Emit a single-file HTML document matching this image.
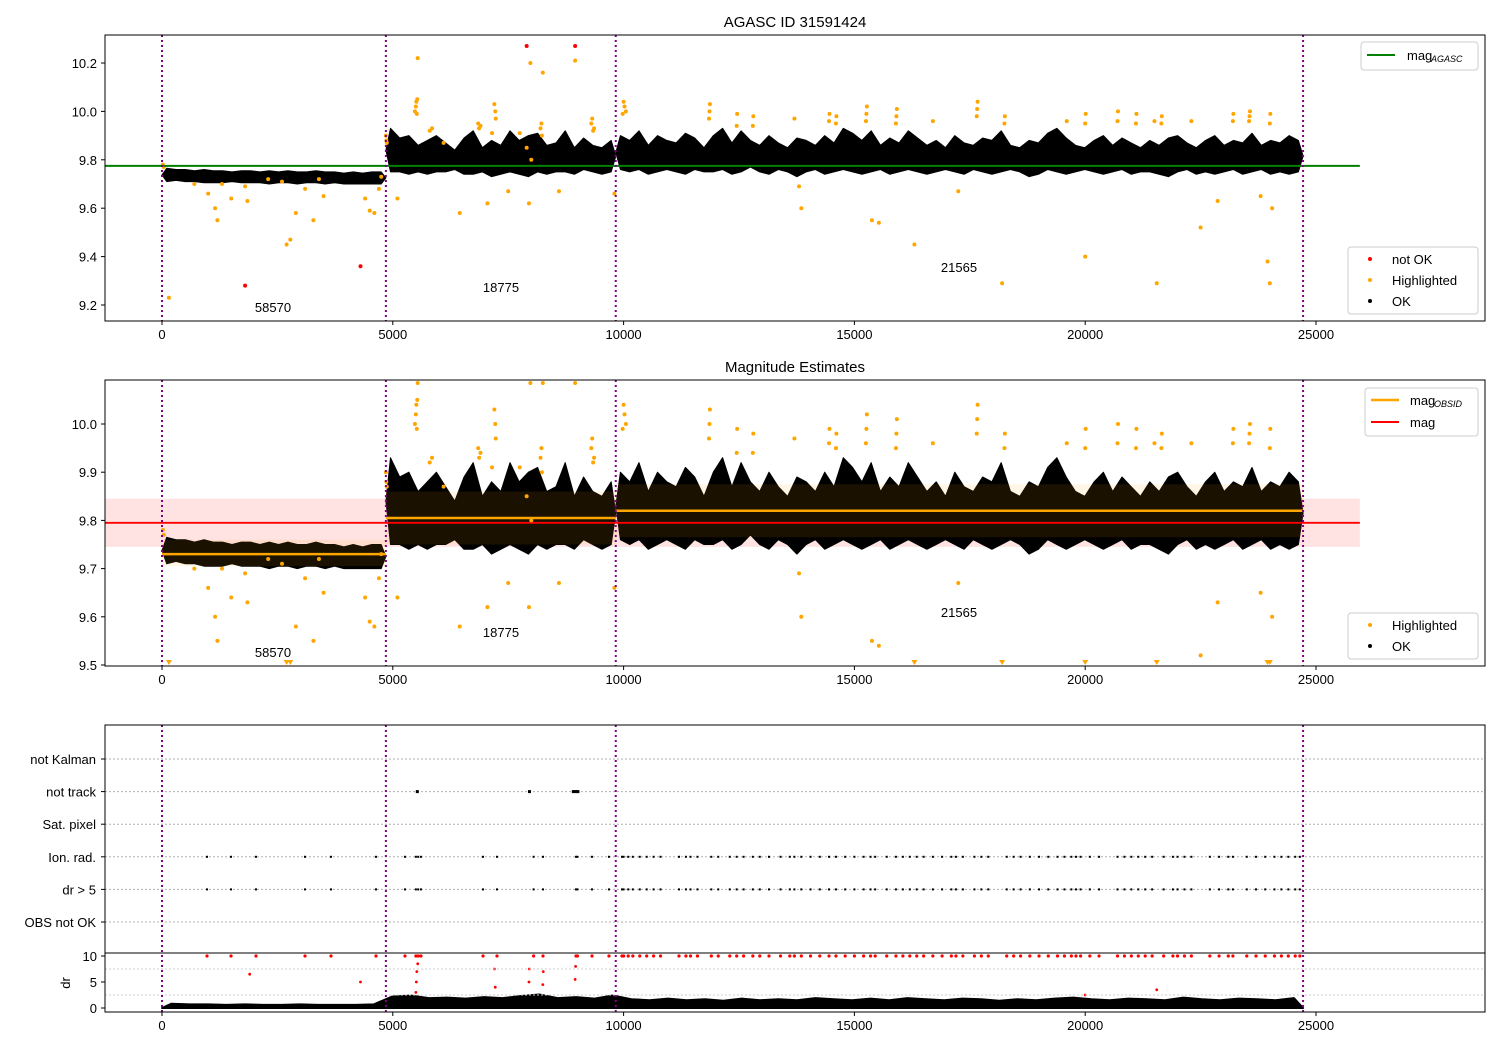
<!DOCTYPE html>
<html><head><meta charset="utf-8"><style>
body{margin:0;background:#fff}
svg{display:block;font-family:"Liberation Sans","DejaVu Sans",sans-serif}
</style></head><body>
<svg id="c" width="1500" height="1050" viewBox="0 0 1500 1050" xmlns="http://www.w3.org/2000/svg"></svg>
<script>
const xTicks=[0,5000,10000,15000,20000,25000];
const p1Ticks=[9.2,9.4,9.6,9.8,10.0,10.2];
const p2Ticks=[9.5,9.6,9.7,9.8,9.9,10.0];
const categories=["not Kalman","not track","Sat. pixel","Ion. rad.","dr > 5","OBS not OK"];
const drTicks=[0,5,10];
const segBounds=[0,4850,9830,24720];
const obsids=["58570","18775","21565"];
const obsMean=[9.73,9.805,9.82];
const obsLo=[9.705,9.75,9.765];
const obsHi=[9.76,9.86,9.875];
const magAgasc=9.775;
const magObs=9.795, magObsLo=9.745, magObsHi=9.845;
const hi1=[9.765,9.76,9.76,9.755,9.76,9.755,9.755,9.75,9.755,9.755,9.75,9.755,9.75,9.755,9.75,9.75,9.755,9.75,9.75,9.745,9.75,9.745,9.75,9.75];
const lo1=[9.71,9.715,9.71,9.71,9.705,9.705,9.705,9.71,9.705,9.705,9.705,9.7,9.705,9.705,9.7,9.705,9.705,9.7,9.705,9.7,9.7,9.7,9.7,9.7];
const hi2=[9.93,9.89,9.9,9.86,9.88,9.9,9.87,9.84,9.89,9.92,9.85,9.88,9.86,9.92,9.88,9.9,9.91,9.86,9.87,9.92,9.85,9.89,9.86,9.85,9.88];
const lo2=[9.75,9.75,9.74,9.75,9.74,9.75,9.75,9.76,9.74,9.74,9.75,9.73,9.74,9.75,9.74,9.73,9.75,9.74,9.75,9.75,9.74,9.76,9.75,9.74,9.75];
const hi3=[9.9,9.88,9.92,9.86,9.9,9.88,9.87,9.91,9.89,9.85,9.9,9.93,9.87,9.92,9.88,9.86,9.9,9.87,9.85,9.89,9.88,9.86,9.9,9.87,9.93,9.91,9.88,9.92,9.86,9.89,9.87,9.92,9.89,9.86,9.88,9.85,9.9,9.87,9.86,9.89,9.88,9.92,9.86,9.85,9.88,9.87,9.91,9.93,9.89,9.86,9.85,9.88,9.9,9.86,9.89,9.87,9.85,9.88,9.86,9.89,9.9,9.87,9.85,9.88,9.9,9.86,9.88,9.87,9.91,9.86,9.88,9.87,9.9,9.88];
const lo3=[9.76,9.75,9.76,9.74,9.75,9.76,9.75,9.74,9.76,9.75,9.75,9.76,9.74,9.75,9.77,9.75,9.74,9.76,9.75,9.73,9.75,9.76,9.74,9.75,9.76,9.75,9.74,9.75,9.76,9.74,9.75,9.76,9.75,9.74,9.75,9.76,9.75,9.74,9.76,9.75,9.74,9.75,9.76,9.75,9.73,9.74,9.76,9.75,9.74,9.75,9.76,9.75,9.74,9.75,9.76,9.74,9.75,9.75,9.74,9.73,9.75,9.76,9.74,9.75,9.74,9.75,9.76,9.74,9.75,9.76,9.74,9.75,9.74,9.75];
const hlT=[20,40,150,700,1000,1150,1200,1300,1500,1800,1850,2300,2600,2700,2780,2900,3100,3280,3400,3500,4400,4500,4600,4700,4750,
4850,4860,4870,5480,5500,5510,5520,5530,5540,5100,5800,5850,6450,6100,6850,6870,6900,7050,7150,7200,7220,7230,7500,7750,7900,7950,7980,8000,8200,8220,8250,8230,8600,8950,9300,9320,9340,9360,9800,
9980,10000,10020,10050,11850,11860,11870,12450,12460,12800,12810,13700,14450,14460,14600,14610,15250,15260,15270,15900,15910,15920,16700,17650,17660,17670,18250,18260,19600,20000,20010,20700,20710,21100,21110,21500,21650,21660,22300,23200,23210,23550,23560,23570,24000,24010,
13800,13850,15380,15530,16300,17250,18200,20000,21550,22500,22870,23800,23950,24000,24050];
const hlMag=[9.78,9.77,9.23,9.7,9.66,9.6,9.55,9.7,9.64,9.69,9.63,9.72,9.71,9.45,9.47,9.58,9.68,9.55,9.72,9.65,9.64,9.59,9.58,9.68,9.73,
9.9,9.88,9.87,10.0,10.02,10.04,9.99,10.05,10.22,9.64,9.92,9.93,9.58,9.87,9.95,9.93,9.94,9.62,9.91,10.03,10.0,9.97,9.67,9.91,9.85,9.62,10.2,9.8,9.93,9.95,10.16,9.9,9.67,10.21,9.95,9.97,9.92,9.93,9.66,
9.99,10.04,10.02,10.0,9.97,10.0,10.03,9.94,9.99,9.94,9.98,9.97,9.96,9.99,9.95,9.98,9.96,9.99,10.02,9.95,9.98,10.01,9.96,9.98,10.01,10.04,9.95,9.98,9.96,9.95,9.99,9.96,10.0,9.95,9.99,9.96,9.95,9.98,9.96,9.96,9.99,9.96,9.98,10.0,9.95,9.99,
9.69,9.6,9.55,9.54,9.45,9.67,9.29,9.4,9.29,9.52,9.63,9.65,9.38,9.29,9.6];
const badT=[1800,4300,7900,8270,8930,8950];
const badMag=[9.28,9.36,10.27,10.33,10.33,10.27];
const flagT=[975,1495,2036,3098,3661,4636,5264,5500,5550,5610,6954,7257,8050,8254,8969,9000,9315,9683,9965,10000,10100,10200,10350,10500,10650,10800,11200,11350,11450,11600,11900,12050,12300,12450,12600,12800,12950,13150,13400,13600,13700,13850,14050,14250,14450,14600,14800,15000,15200,15350,15450,15700,15900,16050,16200,16350,16500,16700,16900,17100,17200,17350,17600,17750,17900,18300,18450,18600,18800,19000,19200,19400,19550,19700,19800,19900,20100,20300,20700,20850,21000,21150,21300,21450,21700,21900,22000,22150,22300,22700,22900,23100,23200,23500,23700,23900,24100,24250,24400,24550,24650];
const notTrackT=[5520,7950,8900,8950,9000];
const drHi=[0.8,0.7,0.7,0.6,0.7,0.6,0.6,0.7,0.6,0.6,0.6,0.7,2.2,2.4,1.9,2.0,1.8,2.1,1.9,2.3,2.6,1.9,2.1,1.8,2.4,1.7,1.5,1.8,1.5,1.7,1.4,1.8,1.5,1.7,1.5,1.9,1.7,1.5,1.8,1.5,1.9,1.7,1.5,1.8,1.7,1.4,1.7,1.5,1.8,2.0,1.7,1.5,1.8,1.7,1.5,2.0,1.7,1.5,1.8,1.7,1.5,1.9];
const redDrT=[1900,4300,5500,5510,5520,5540,7200,7220,7950,7960,8250,8260,8950,8960,20000,21550];
const redDr=[6.5,5,3,5,7,8.5,7.5,4,5,7.5,4.5,7,5.5,8,2.5,3.5];

const svg=document.getElementById('c');
const NS='http://www.w3.org/2000/svg';
function mk(tag,attrs,parent){const e=document.createElementNS(NS,tag);for(const k in attrs)e.setAttribute(k,attrs[k]);(parent||svg).appendChild(e);return e;}
const X=t=>162+t*0.04616;
const Y1=m=>63+(10.2-m)*242;
const Y2=m=>424+(10.0-m)*482;
const Yd=v=>1008-v*5.2;
const Yc=i=>759+i*32.6;
const L=105,R=1485;
function txt(x,y,s,attrs){const e=mk('text',Object.assign({x:x,y:y,'font-size':13,fill:'#000'},attrs||{}));e.textContent=s;return e;}

function cloud(Y,name,parent){
  const segs=[[hi1,lo1],[hi2,lo2],[hi3,lo3]];
  segs.forEach((s,k)=>{
    const a=segBounds[k],b=segBounds[k+1],n=s[0].length,st=(b-a)/n;
    let up=[],dn=[];
    for(let i=0;i<n;i++){const t=a+st*(i+0.5);up.push(X(t).toFixed(1)+','+Y(s[0][i]).toFixed(1));dn.unshift(X(t).toFixed(1)+','+Y(s[1][i]).toFixed(1));}
    up.unshift(X(a).toFixed(1)+','+Y((s[0][0]+s[1][0])/2).toFixed(1));
    up.push(X(b).toFixed(1)+','+Y((s[0][n-1]+s[1][n-1])/2).toFixed(1));
    const p=mk('polygon',{points:up.concat(dn).join(' '),fill:'#000',stroke:'#000','stroke-width':1,'stroke-linejoin':'round'},parent);
    
    
  });
}
function vlines(y0,y1){
  segBounds.forEach((t,i)=>{const l=mk('line',{x1:X(t),x2:X(t),y1:y0,y2:y1,stroke:'purple','stroke-width':2,'stroke-dasharray':'2,3'});
    
    });
}
function frame(y0,y1,name){const r=mk('rect',{x:L,y:y0,width:R-L,height:y1-y0,fill:'none',stroke:'#000','stroke-width':1});
  
  }
function xaxis(y){xTicks.forEach(t=>{mk('line',{x1:X(t),x2:X(t),y1:y,y2:y+4,stroke:'#000'});const e=txt(X(t),y+18,String(t),{'text-anchor':'middle'});
  
  });}
function yaxis(ticks,Y,fmt){ticks.forEach(v=>{mk('line',{x1:L-4,x2:L,y1:Y(v),y2:Y(v),stroke:'#000'});const e=txt(L-8,Y(v)+5,fmt(v),{'text-anchor':'end'});
  
  });}

// ---------- Panel 1 ----------
const t1=txt(795,27,'AGASC ID 31591424',{'text-anchor':'middle','font-size':15});


const defs=mk('defs',{});
const cp1=mk('clipPath',{id:'cp1'},defs);mk('rect',{x:L,y:35,width:R-L,height:286},cp1);
const cp2=mk('clipPath',{id:'cp2'},defs);mk('rect',{x:L,y:380,width:R-L,height:286},cp2);
const g1=mk('g',{'clip-path':'url(#cp1)'});
cloud(Y1,'agasc',g1);
hlT.forEach((t,i)=>{const c=mk('circle',{cx:X(t),cy:Y1(hlMag[i]),r:2,fill:'orange'},g1);
  
  });
badT.forEach((t,i)=>{const c=mk('circle',{cx:X(t),cy:Y1(badMag[i]),r:2,fill:'red'},g1);
  
  });
const ga=mk('line',{x1:L,x2:X(25950),y1:Y1(magAgasc),y2:Y1(magAgasc),stroke:'green','stroke-width':2});


vlines(35,321);
frame(35,321,'agasc-plot-area');
xaxis(321);yaxis(p1Ticks,Y1,v=>v.toFixed(1));
[[273,307],[501,287],[959,267]].forEach((p,i)=>{const e=txt(p[0],p[1]+5,obsids[i],{'text-anchor':'middle'});
  
  });

function legendBox(x,y,w,h,name){const r=mk('rect',{x:x,y:y,width:w,height:h,rx:3,fill:'#fff','fill-opacity':0.8,stroke:'#ccc'});
  
  }
legendBox(1361,42,117,28,'legend-agasc');
mk('line',{x1:1367,x2:1395,y1:55,y2:55,stroke:'green','stroke-width':2});
let e=txt(1407,60,'mag');
txt(1431,62,'AGASC',{'font-size':9,'font-style':'italic'});
legendBox(1348,247,130,67,'legend-status');
[['red','not OK',260],['orange','Highlighted',281],['#000','OK',302]].forEach(a=>{mk('circle',{cx:1370,cy:a[2]-1,r:2,fill:a[0]});const q=txt(1392,a[2]+4,a[1]);
  
  });

// ---------- Panel 2 ----------
const t2=txt(795,372,'Magnitude Estimates',{'text-anchor':'middle','font-size':15});


const g2=mk('g',{'clip-path':'url(#cp2)'});
const pb=mk('rect',{x:L,y:Y2(magObsHi),width:X(25950)-L,height:Y2(magObsLo)-Y2(magObsHi),fill:'red','fill-opacity':0.11},g2);


cloud(Y2,'obs',g2);
for(let k=0;k<3;k++){
  const b=mk('rect',{x:X(segBounds[k]),y:Y2(obsHi[k]),width:X(segBounds[k+1])-X(segBounds[k]),height:Y2(obsLo[k])-Y2(obsHi[k]),fill:'orange','fill-opacity':0.1},g2);
  
  
  const l=mk('line',{x1:X(segBounds[k]),x2:X(segBounds[k+1]),y1:Y2(obsMean[k]),y2:Y2(obsMean[k]),stroke:'orange','stroke-width':2.5},g2);
  
  
}
const rl=mk('line',{x1:L,x2:X(25950),y1:Y2(magObs),y2:Y2(magObs),stroke:'red','stroke-width':1.8},g2);


hlT.forEach((t,i)=>{const m=hlMag[i];const x=X(t);
  if(m<9.5){const p=mk('polygon',{points:`${x-3},${Y2(9.5)-5} ${x+3},${Y2(9.5)-5} ${x},${Y2(9.5)}`,fill:'orange'},g2);
    
    }
  else{const c=mk('circle',{cx:x,cy:Math.max(Y2(m),383),r:2,fill:'orange'},g2);
    
    }});
vlines(380,666);
frame(380,666,'estimates-plot-area');
xaxis(666);yaxis(p2Ticks,Y2,v=>v.toFixed(1));
[[273,652],[501,632],[959,612]].forEach((p,i)=>{const q=txt(p[0],p[1]+5,obsids[i],{'text-anchor':'middle'});
  
  });
legendBox(1365,388,113,48,'legend-mag');
mk('line',{x1:1371,x2:1399,y1:400,y2:400,stroke:'orange','stroke-width':2.5});
e=txt(1410,405,'mag');
txt(1434,407,'OBSID',{'font-size':9,'font-style':'italic'});
mk('line',{x1:1371,x2:1399,y1:422,y2:422,stroke:'red','stroke-width':2});
e=txt(1410,427,'mag');
legendBox(1348,613,130,46,'legend-status-2');
[['orange','Highlighted',626],['#000','OK',647]].forEach(a=>{mk('circle',{cx:1370,cy:a[2]-1,r:2,fill:a[0]});const q=txt(1392,a[2]+4,a[1]);
  
  });

// ---------- Panel 3 ----------
categories.forEach((c,i)=>{const l=mk('line',{x1:L,x2:R,y1:Yc(i),y2:Yc(i),stroke:'#b0b0b0','stroke-dasharray':'2,2'});
  
  
  mk('line',{x1:L-4,x2:L,y1:Yc(i),y2:Yc(i),stroke:'#000'});
  const q=txt(L-9,Yc(i)+5,c,{'text-anchor':'end'});
  
  });
flagT.forEach(t=>{[3,4].forEach(row=>{const r=mk('rect',{x:X(t)-1,y:Yc(row)-1,width:2,height:2,fill:'#000'});
  
  });
  const c=mk('circle',{cx:X(t),cy:Yd(10),r:1.6,fill:'red'});
  
  });
notTrackT.forEach(t=>{const r=mk('rect',{x:X(t)-1,y:Yc(1)-1.5,width:3,height:3,fill:'#000'});
  
  });
{let up=[];const st=24720/drHi.length;
 drHi.forEach((v,i)=>{up.push(X(st*(i+0.5)).toFixed(1)+','+Yd(v).toFixed(1));});
 const p=mk('polygon',{points:`${X(0)},${Yd(0)} `+up.join(' ')+` ${X(24720)},${Yd(0)}`,fill:'#000',stroke:'#000','stroke-width':2,'stroke-linejoin':'round'});
 
 }
redDrT.forEach((t,i)=>{const c=mk('circle',{cx:X(t),cy:Yd(redDr[i]),r:1.4,fill:'red'});
  
  });
[2.5,7.5].forEach(v=>mk('line',{x1:L,x2:R,y1:Yd(v),y2:Yd(v),stroke:'#ccc','stroke-dasharray':'2,2'}));
vlines(725,1012);
frame(725,953,'flags-plot-area');
frame(953,1012,'dr-plot-area');
xaxis(1012);
yaxis(drTicks,Yd,v=>String(v));
e=txt(0,0,'dr',{'text-anchor':'middle',transform:'translate(70,983) rotate(-90)'});


</script>
</body></html>
